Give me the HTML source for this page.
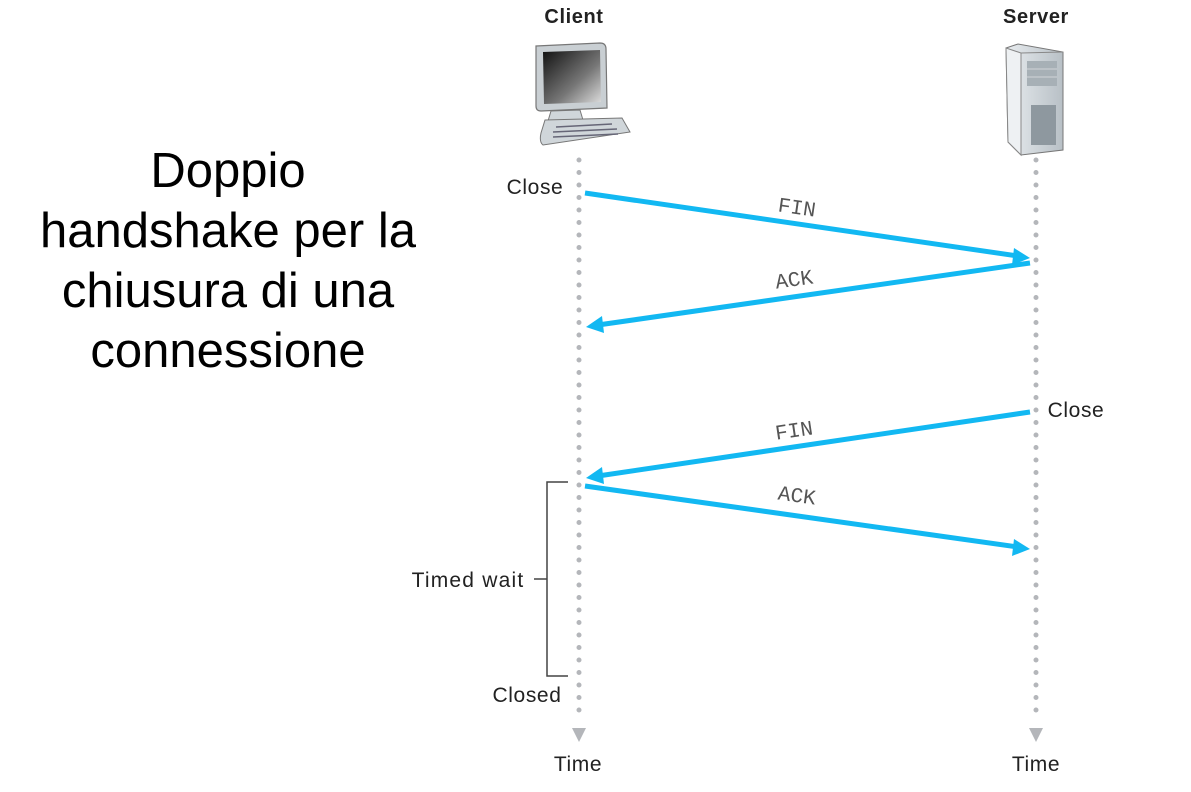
<!DOCTYPE html>
<html><head><meta charset="utf-8"><style>
html,body{margin:0;padding:0;background:#fff;}
svg{display:block}
</style></head><body>
<svg width="1191" height="792" viewBox="0 0 1191 792" xmlns="http://www.w3.org/2000/svg">
<defs>
<linearGradient id="scr" x1="0" y1="0" x2="1" y2="1"><stop offset="0" stop-color="#111"/><stop offset="0.6" stop-color="#777"/><stop offset="1" stop-color="#ddd"/></linearGradient>
<linearGradient id="tw" x1="0" y1="0" x2="1" y2="0"><stop offset="0" stop-color="#e8ecef"/><stop offset="1" stop-color="#b8c0c6"/></linearGradient>
</defs>
<g font-family="Liberation Sans, sans-serif" font-size="49" text-anchor="middle">
<text x="228" y="187">Doppio</text>
<text x="228" y="247">handshake per la</text>
<text x="228" y="307">chiusura di una</text>
<text x="228" y="367">connessione</text>
</g>

<g font-family="Liberation Sans, sans-serif" fill="#222" letter-spacing="0.6">
<text x="574" y="23" font-size="20" font-weight="bold" text-anchor="middle">Client</text>
<text x="1036" y="23" font-size="20" font-weight="bold" text-anchor="middle">Server</text>
<text x="535" y="194" font-size="21" text-anchor="middle">Close</text>
<text x="1076" y="417" font-size="21" text-anchor="middle">Close</text>
<text x="468" y="587" font-size="21" text-anchor="middle" letter-spacing="1.2">Timed wait</text>
<text x="527" y="702" font-size="21" text-anchor="middle">Closed</text>
<text x="578" y="771" font-size="21" text-anchor="middle">Time</text>
<text x="1036" y="771" font-size="21" text-anchor="middle">Time</text>
</g>

<!-- client icon -->
<path d="M536 46 L600 43 Q606 43 606 49 L607 108 L541 111 Q536 111 536 106 Z" fill="#c9cfd3" stroke="#777" stroke-width="1.2"/>
<path d="M543 52 L600 50 L601 102 L544 104 Z" fill="url(#scr)"/>
<path d="M551 111 L580 110 L583 120 L548 121 Z" fill="#d0d6da" stroke="#777"/>
<path d="M545 120 L622 118 L630 132 L543 145 Q539 142 541 133 Z" fill="#d0d6da" stroke="#777"/>
<path d="M556 127 L612 124 M553 132 L617 129 M553 137 L618 134" stroke="#667" stroke-width="1.5"/>

<!-- server icon -->
<path d="M1006 48 L1018 44 L1063 52 L1063 150 L1021 155 L1008 142 Z" fill="url(#tw)" stroke="#777"/>
<path d="M1006 48 L1021 53 L1021 155 L1008 142 Z" fill="#eef1f3" stroke="#888"/>
<path d="M1021 53 L1063 52" stroke="#888"/>
<rect x="1027" y="61" width="30" height="25" fill="#a7b0b6"/>
<path d="M1027 69 H1057 M1027 77 H1057" stroke="#d0d5d8"/>
<rect x="1031" y="105" width="25" height="40" fill="#8e989f"/>

<!-- timelines -->
<line x1="579" y1="160" x2="579" y2="722" stroke="#b4b6ba" stroke-width="5" stroke-linecap="round" stroke-dasharray="0 12.5"/>
<line x1="1036" y1="160" x2="1036" y2="722" stroke="#b4b6ba" stroke-width="5" stroke-linecap="round" stroke-dasharray="0 12.5"/>
<path d="M572 728 H586 L579 742 Z" fill="#b4b6ba"/>
<path d="M1029 728 H1043 L1036 742 Z" fill="#b4b6ba"/>

<!-- bracket -->
<path d="M568 482 H547 V676 H568 M534 579 H547" fill="none" stroke="#444" stroke-width="1.5"/>

<!-- arrows -->
<g stroke="#12b8f2" stroke-width="5" fill="#12b8f2">
<line x1="585" y1="193" x2="1018" y2="256"/>
<line x1="1030" y1="263" x2="598" y2="325"/>
<line x1="1030" y1="412" x2="598" y2="476"/>
<line x1="585" y1="486" x2="1018" y2="547"/>
</g>
<g fill="#12b8f2">
<path d="M1030 258 L1012 265 L1014 248 Z"/>
<path d="M586 327 L602 316 L604 333 Z"/>
<path d="M586 478 L602 467 L604 484 Z"/>
<path d="M1030 549 L1012 556 L1014 539 Z"/>
</g>
<g font-family="Liberation Mono, monospace" font-size="21" fill="#555" text-anchor="middle">
<text transform="translate(796,214) rotate(8.2)">FIN</text>
<text transform="translate(795,286) rotate(-8)">ACK</text>
<text transform="translate(795,437) rotate(-8.5)">FIN</text>
<text transform="translate(796,502) rotate(8)">ACK</text>
</g>
</svg>
</body></html>
